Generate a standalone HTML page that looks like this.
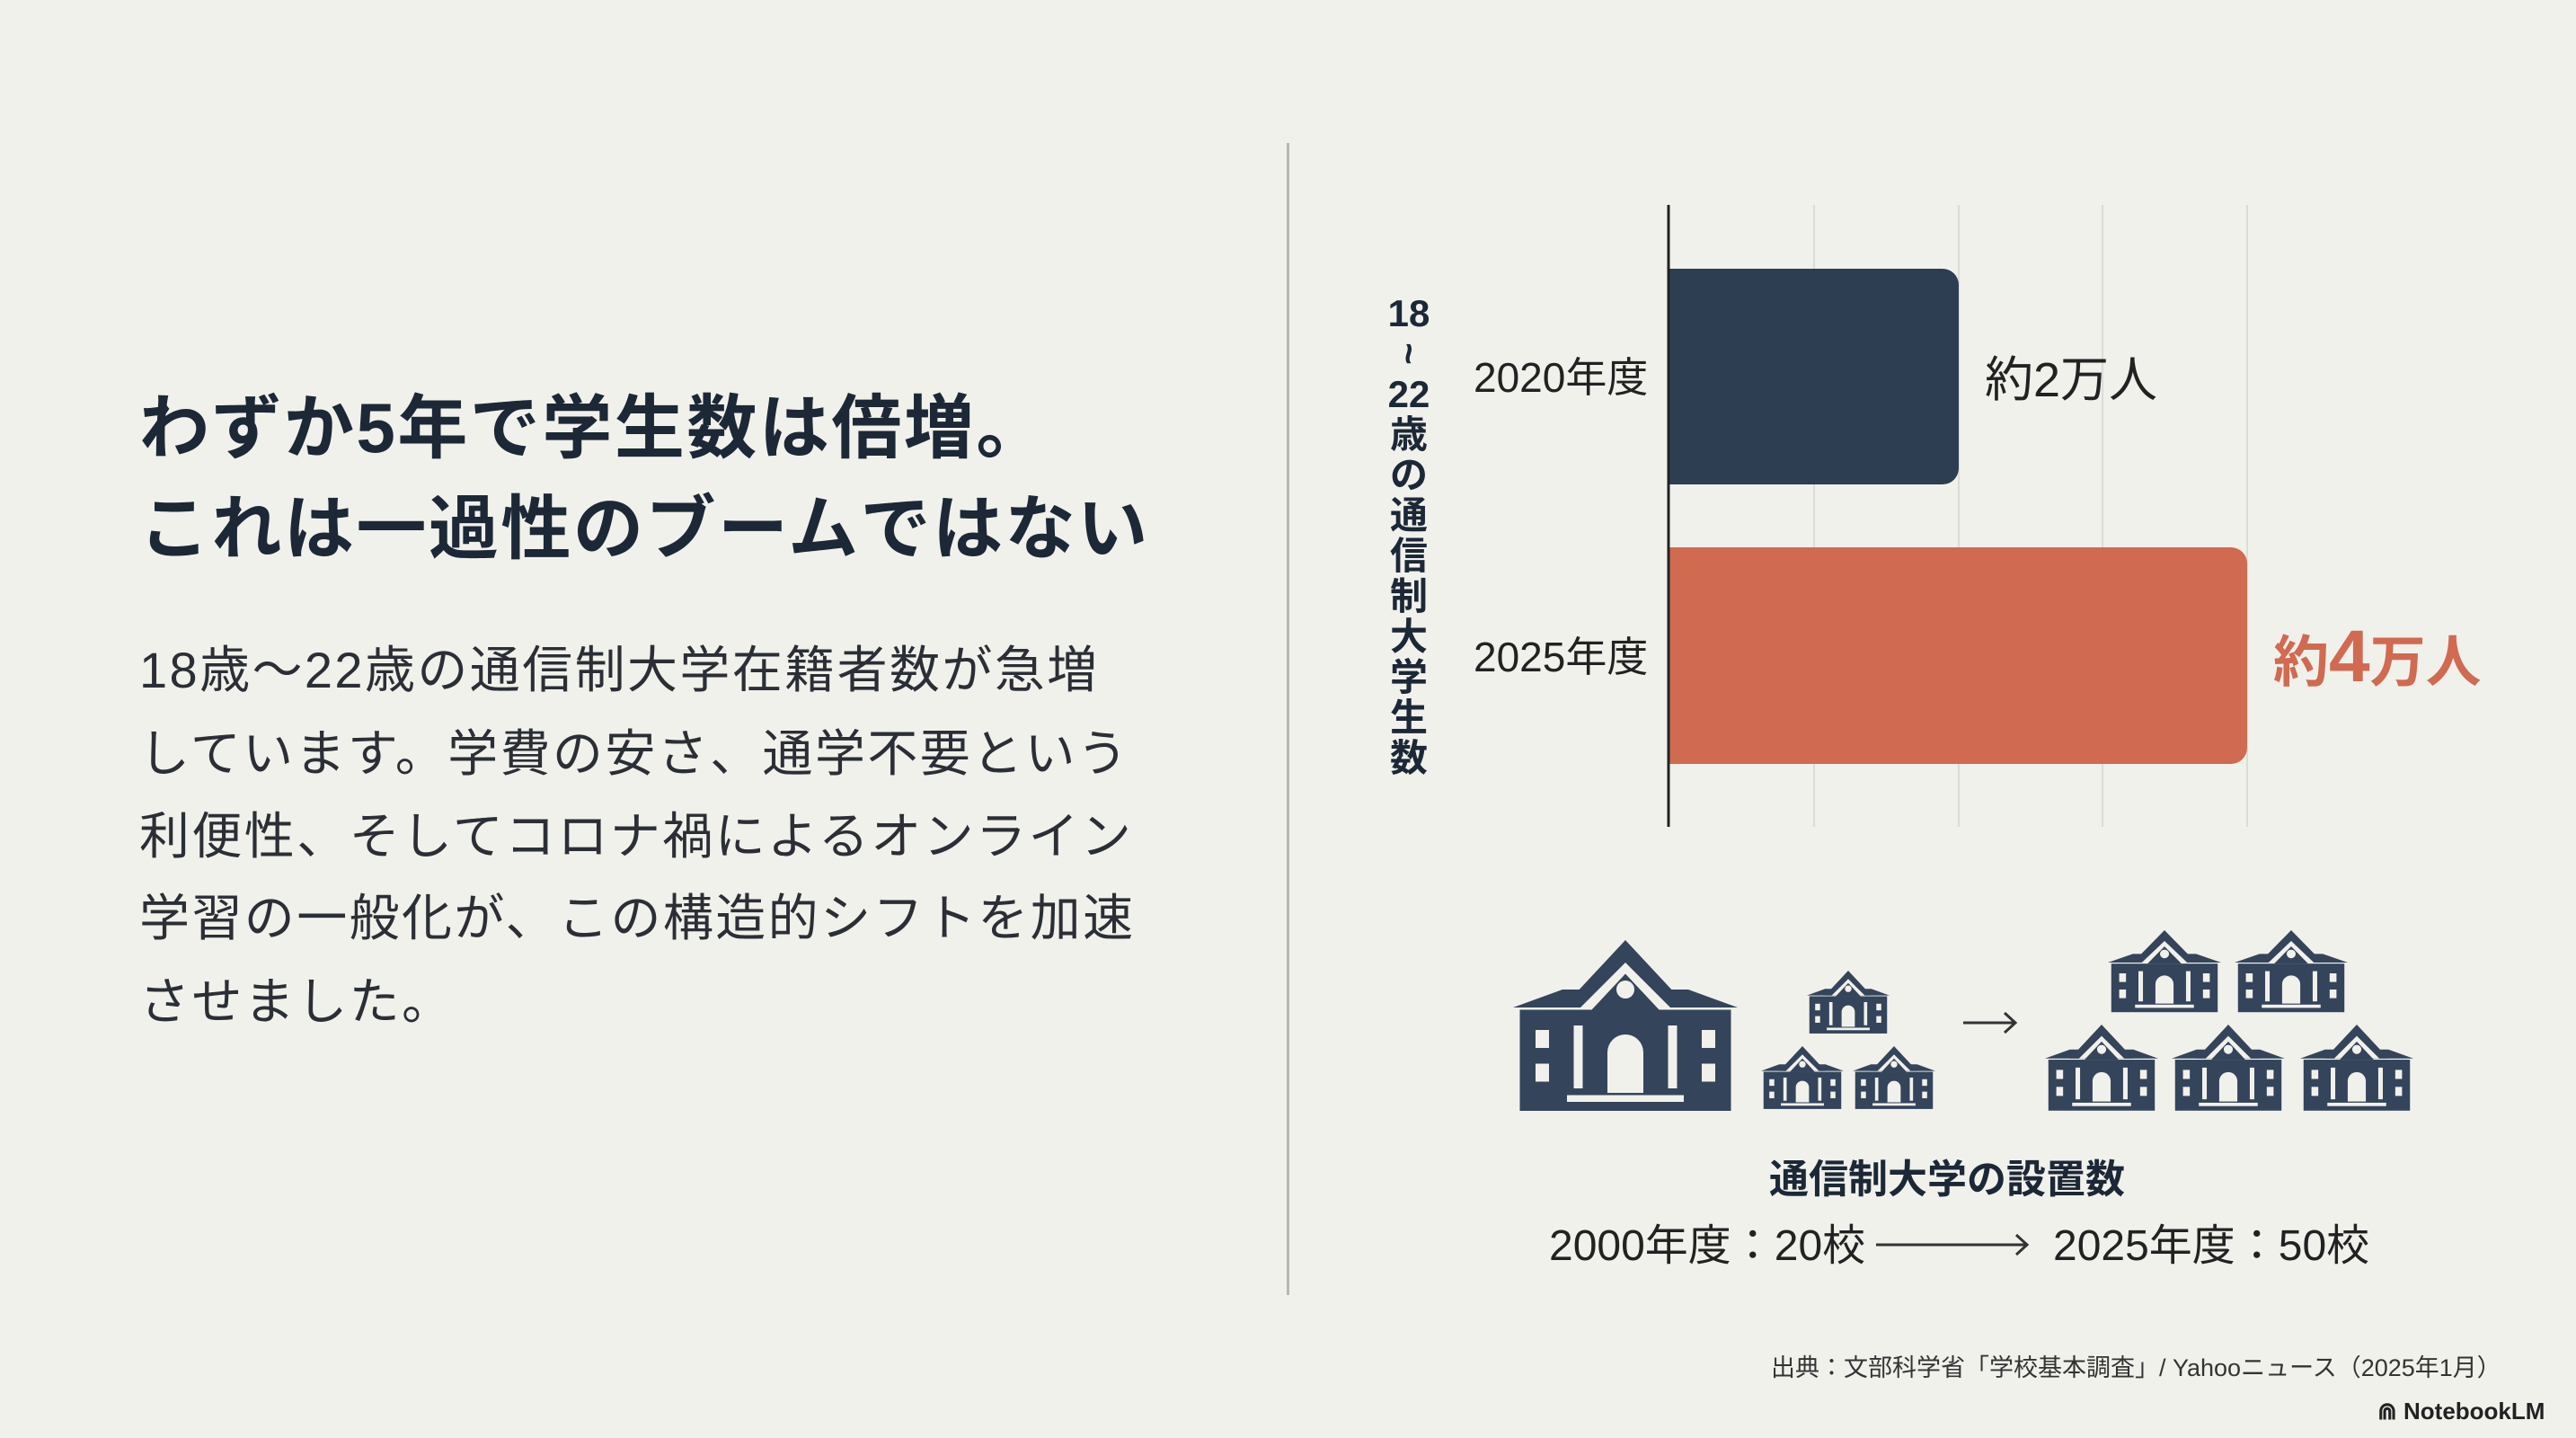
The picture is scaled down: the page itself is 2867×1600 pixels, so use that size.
<!DOCTYPE html>
<html><head><meta charset="utf-8"><style>
html,body{margin:0;padding:0}
body{width:2867px;height:1600px;background:#f1f1ec;position:relative;overflow:hidden;font-family:"Liberation Sans","Noto Sans CJK JP",sans-serif;color:#1f2a36}
.a{position:absolute;white-space:nowrap}
.t{font-size:78px;font-weight:bold;color:#1c2836;letter-spacing:2.5px;line-height:1}
.b{font-size:56px;color:#2b2f35;line-height:1;letter-spacing:2.4px}
.vl{position:absolute;left:1543px;top:326px;width:50px;text-align:center;font-weight:bold;font-size:42px;line-height:45px;color:#1c2836}
</style></head><body>
<div class="a t" style="left:155px;top:437px">わずか5年で学生数は倍増。</div>
<div class="a t" style="left:155px;top:549px">これは一過性のブームではない</div>
<div class="a b" style="left:155px;top:718px">18歳～22歳の通信制大学在籍者数が急増</div>
<div class="a b" style="left:155px;top:811px">しています。学費の安さ、通学不要という</div>
<div class="a b" style="left:155px;top:903px">利便性、そしてコロナ禍によるオンライン</div>
<div class="a b" style="left:155px;top:994px">学習の一般化が、この構造的シフトを加速</div>
<div class="a b" style="left:155px;top:1087px">させました。</div>

<div class="a" style="left:1432px;top:159px;width:3px;height:1282px;background:#b8b8b4"></div>

<svg class="a" style="left:0;top:0" width="2867" height="1600">
<g stroke="#dcdcd6" stroke-width="2">
<line x1="2019" y1="228" x2="2019" y2="920"/><line x1="2180" y1="228" x2="2180" y2="920"/>
<line x1="2340" y1="228" x2="2340" y2="920"/><line x1="2501" y1="228" x2="2501" y2="920"/>
</g>
<path d="M1858,299 H2162 a18,18 0 0 1 18,18 V521 a18,18 0 0 1 -18,18 H1858 Z" fill="#2d3e52"/>
<path d="M1858,609 H2483 a18,18 0 0 1 18,18 V832 a18,18 0 0 1 -18,18 H1858 Z" fill="#d06a50"/>
<line x1="1857" y1="228" x2="1857" y2="920" stroke="#222" stroke-width="3"/>
<defs>
<g id="bld">
<polygon points="0,30 22,22 78,22 100,30" fill="#34445a"/>
<polygon points="50,0 22,30 78,30" fill="#34445a"/>
<polygon points="50,10 30,30 70,30" fill="#f1f1ec"/>
<polygon points="50,15 35,31 65,31" fill="#34445a"/>
<rect x="3" y="31" width="94" height="45" fill="#34445a"/>
<circle cx="50" cy="22" r="4" fill="#f1f1ec"/>
<rect x="10" y="40" width="6" height="8" fill="#f1f1ec"/><rect x="10" y="55" width="6" height="8" fill="#f1f1ec"/>
<rect x="84" y="40" width="6" height="8" fill="#f1f1ec"/><rect x="84" y="55" width="6" height="8" fill="#f1f1ec"/>
<rect x="27" y="38" width="4" height="28" fill="#f1f1ec"/><rect x="69" y="38" width="4" height="28" fill="#f1f1ec"/>
<path d="M42,68 V50 a8,8 0 0 1 16,0 V68 Z" fill="#f1f1ec"/>
<rect x="24" y="69" width="52" height="3" fill="#f1f1ec"/>
</g>
</defs>
<use href="#bld" transform="translate(1684,1046) scale(2.5,2.5)"/>
<use href="#bld" transform="translate(2011,1080) scale(0.92,0.92)"/>
<use href="#bld" transform="translate(1960,1164) scale(0.92,0.92)"/>
<use href="#bld" transform="translate(2062,1164) scale(0.92,0.92)"/>
<use href="#bld" transform="translate(2346,1035) scale(1.26,1.2)"/>
<use href="#bld" transform="translate(2487,1035) scale(1.26,1.2)"/>
<use href="#bld" transform="translate(2276,1140) scale(1.26,1.26)"/>
<use href="#bld" transform="translate(2417,1140) scale(1.26,1.26)"/>
<use href="#bld" transform="translate(2560,1140) scale(1.26,1.26)"/>
<g stroke="#333" stroke-width="3" fill="none">
<line x1="2185" y1="1138" x2="2243" y2="1138"/><polyline points="2231,1127 2243,1138 2231,1149"/>
<line x1="2088" y1="1385" x2="2256" y2="1385"/><polyline points="2244,1374 2256,1385 2244,1396"/>
</g>
</svg>

<div class="vl">18<br><span style="display:inline-block;transform:rotate(90deg)">~</span><br>22<br>歳<br>の<br>通<br>信<br>制<br>大<br>学<br>生<br>数</div>
<div class="a" style="left:1640px;top:384px;font-size:46px;color:#222">2020年度</div>
<div class="a" style="left:1640px;top:695px;font-size:46px;color:#222">2025年度</div>
<div class="a" style="left:2209px;top:378px;font-size:54px;color:#222">約2万人</div>
<div class="a" style="left:2530px;top:684px;font-size:62px;font-weight:bold;color:#d06a50">約<span style="font-size:82px">4</span>万人</div>

<div class="a" style="left:1969px;top:1276px;font-size:44px;font-weight:bold;color:#1c2836">通信制大学の設置数</div>
<div class="a" style="left:1724px;top:1346px;font-size:48px;color:#222">2000年度：20校</div>
<div class="a" style="left:2285px;top:1346px;font-size:48px;color:#222">2025年度：50校</div>
<div class="a" style="left:1971px;top:1500px;font-size:27px;color:#333">出典：文部科学省「学校基本調査」/ Yahooニュース（2025年1月）</div>
<div class="a" style="left:2646px;top:1555px;font-size:26px;color:#222;font-weight:bold">⋒ NotebookLM</div>
</body></html>
